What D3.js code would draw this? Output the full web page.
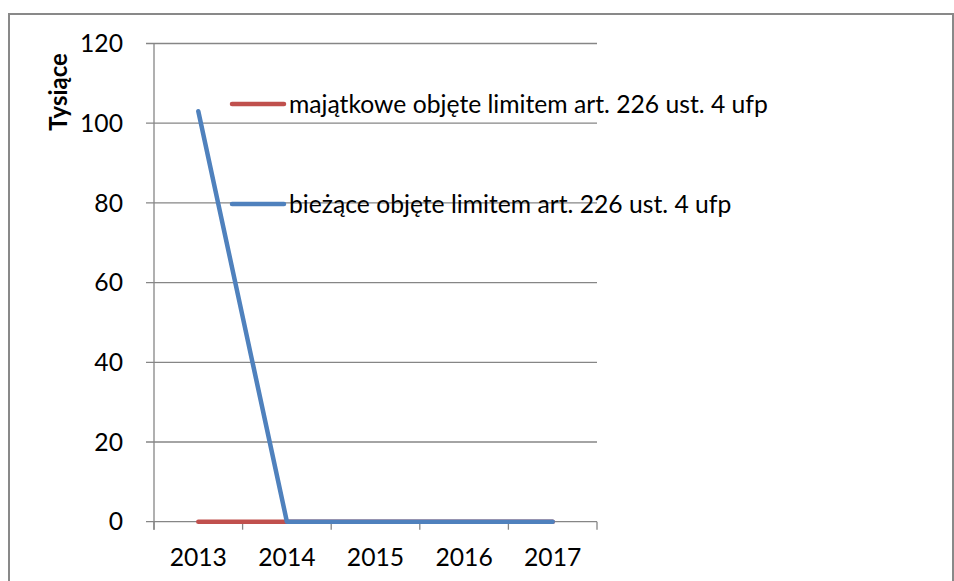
<!DOCTYPE html>
<html><head><meta charset="utf-8">
<script src="https://cdn.jsdelivr.net/npm/d3@7"></script>
<style>html,body{margin:0;padding:0;background:#fff;}svg{display:block;}</style>
</head><body>
<script>
const years = ["2013","2014","2015","2016","2017"];
const seriesNames = ["majątkowe objęte limitem art. 226 ust. 4 ufp","bieżące objęte limitem art. 226 ust. 4 ufp"];
const majatkowe = [0,0,0,0,0];
const biezace = [103,0,0,0,0];
const yTicks = [0,20,40,60,80,100,120];
const colors = ["#c0504d","#4f81bd"];
const yTitle = "Tysiące";

const W=954,H=581;
const FONT="Lato, 'Open Sans', sans-serif";
const svg=d3.select("body").append("svg").attr("width",W).attr("height",H);
svg.append("rect").attr("x",9).attr("y",14).attr("width",944).attr("height",600)
  .attr("fill","#fff").attr("stroke","#898989").attr("stroke-width",2);

const L=154,R=597,T=43.5,B=521.7;
const x=d3.scaleBand().domain(years).range([L,R]);
const y=d3.scaleLinear().domain([0,120]).range([B,T]);

const probe=svg.append("text").attr("font-family",FONT).attr("font-size",100).text(seriesNames[0]);
const fs=100*479/probe.node().getComputedTextLength();
probe.remove();

svg.append("g").selectAll("line").data(yTicks).join("line")
  .attr("x1",L-8).attr("x2",R).attr("y1",d=>y(d)).attr("y2",d=>y(d))
  .attr("stroke","#868686").attr("stroke-width",1.3);
svg.append("line").attr("x1",L).attr("x2",L).attr("y1",T).attr("y2",B+8).attr("stroke","#868686").attr("stroke-width",1.3);
const bounds=years.map(d=>x(d)).concat([R]);
svg.append("g").selectAll("line").data(bounds).join("line")
  .attr("x1",d=>d).attr("x2",d=>d).attr("y1",B).attr("y2",B+8)
  .attr("stroke","#868686").attr("stroke-width",1.3);

svg.append("g").selectAll("text").data(yTicks).join("text")
  .attr("x",123).attr("y",d=>y(d)).attr("dy","0.35em").attr("text-anchor","end")
  .attr("font-family",FONT).attr("font-size",fs).attr("fill","#000").text(d=>d);
svg.append("g").selectAll("text").data(years).join("text")
  .attr("x",d=>x(d)+x.bandwidth()/2).attr("y",566).attr("text-anchor","middle")
  .attr("font-family",FONT).attr("font-size",fs).attr("fill","#000").text(d=>d);
svg.append("text").attr("transform","translate(67,92) rotate(-90)").attr("text-anchor","middle")
  .attr("font-family",FONT).attr("font-weight","bold").attr("font-size",fs*0.97).text(yTitle);

const line=d3.line().x((d,i)=>x(years[i])+x.bandwidth()/2).y(d=>y(d));
[majatkowe,biezace].forEach((s,i)=>{
  svg.append("path").attr("d",line(s)).attr("fill","none").attr("stroke",colors[i])
    .attr("stroke-width",4.5).attr("stroke-linecap","round").attr("stroke-linejoin","round");
});

const legY=[104,204];
seriesNames.forEach((n,i)=>{
  svg.append("line").attr("x1",232).attr("x2",284).attr("y1",legY[i]).attr("y2",legY[i])
    .attr("stroke",colors[i]).attr("stroke-width",4.5).attr("stroke-linecap","round");
  svg.append("text").attr("x",289).attr("y",legY[i]).attr("dy","0.35em")
    .attr("font-family",FONT).attr("font-size",fs).attr("fill","#000").text(n);
});
</script>
</body></html>
